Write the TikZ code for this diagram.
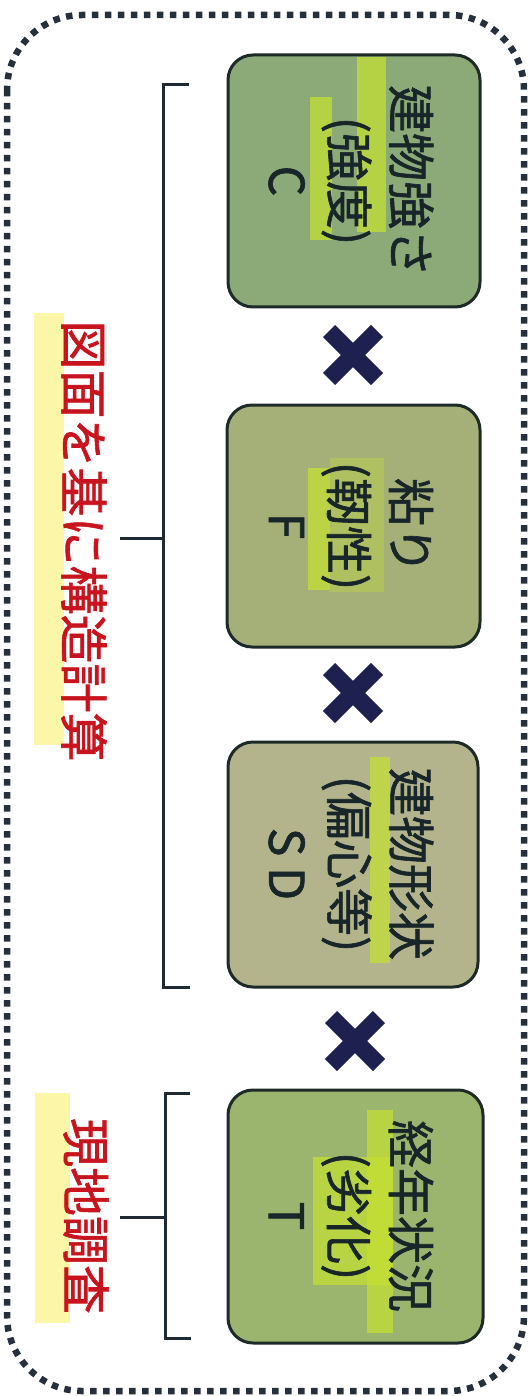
\documentclass[tikz,border=0pt]{standalone}
\usepackage{fontspec}
\newfontfamily\jp[FakeBold=1.3]{Noto Sans CJK JP}
\definecolor{dotc}{HTML}{26303C}
\definecolor{linec}{HTML}{1F2A33}
\definecolor{boxline}{HTML}{1E2A28}
\definecolor{crossc}{HTML}{1E2050}
\definecolor{redt}{HTML}{C8141E}
\definecolor{hilite}{HTML}{C4E034}
\definecolor{yel}{HTML}{FAF060}
\definecolor{fC}{HTML}{8CAA78}
\definecolor{fF}{HTML}{A5AF78}
\definecolor{fSD}{HTML}{B4B48C}
\definecolor{fT}{HTML}{9BB46E}
\definecolor{txt}{HTML}{18262A}
\tikzset{
  x=1pt, y=-1pt,
  card/.style={draw=boxline, line width=3pt, rounded corners=25pt, inner sep=0pt},
  cardtext/.style={font=\jp\fontsize{48}{62}\selectfont, align=center, rotate=-90, text=txt, inner sep=0pt},
  redlabel/.style={font=\jp\fontsize{49}{60}\selectfont, text=redt, rotate=-90, inner sep=0pt},
  hl/.style={fill=hilite, fill opacity=0.75},
  bracket/.style={draw=linec, line width=3pt},
  crossline/.style={draw=crossc, line width=17pt},
}
\begin{document}
\begin{tikzpicture}
\useasboundingbox (0,0) rectangle (531,1396);
% outer dotted frame
\draw[dotc, line width=6.5pt, dash pattern=on 6.5pt off 6.5pt, rounded corners=75pt] (7,15) rectangle (524,1391);

% cards
\node[card, fill=fC, minimum width=252pt, minimum height=252pt] (bC) at (354,181) {};
\node[card, fill=fF, minimum width=253pt, minimum height=242pt] (bF) at (353.5,526) {};
\node[card, fill=fSD, minimum width=250pt, minimum height=245pt] (bSD) at (353,864.5) {};
\node[card, fill=fT, minimum width=255pt, minimum height=253pt] (bT) at (355.5,1216.5) {};

% highlighter strokes in cards
\fill[hl] (357,57) rectangle (386,232);
\fill[hl] (310,97) rectangle (332,240);
\fill[hl] (308,468) rectangle (330,590);
\fill[hl, fill opacity=0.35] (330,458) rectangle (384,592);
\fill[hl] (370,757) rectangle (390,963);
\fill[hl] (313,1157) rectangle (393,1285);
\fill[hl] (367,1110) rectangle (393,1333);

% card texts
\node[cardtext] (tC) at (351,181) {建物強さ\\(強度)\\C};
\node[cardtext] (tF) at (351,526) {粘り\\(靭性)\\F};
\node[cardtext] (tSD) at (351,864) {建物形状\\(偏心等)\\S D};
\node[cardtext] (tT) at (351,1216) {経年状況\\(劣化)\\T};

% crosses
\coordinate (x1) at (353,355);
\coordinate (x2) at (353,693);
\coordinate (x3) at (355,1041);
\foreach \c in {x1,x2,x3}{
  \draw[crossline] ([shift={(-24,-24)}]\c) -- ([shift={(24,24)}]\c);
  \draw[crossline] ([shift={(-24,24)}]\c) -- ([shift={(24,-24)}]\c);
}

% yellow highlights behind red labels
\fill[yel, opacity=0.55] (34,313) rectangle (64,745);
\fill[yel, opacity=0.55] (35,1093) rectangle (70,1323);

% red labels
\node[redlabel] (lA) at (84,541) {図面を基に構造計算};
\node[redlabel] (lB) at (86,1216) {現地調査};

% brackets
\coordinate (b1a) at (189,85);
\coordinate (b1b) at (190,987);
\coordinate (b1m) at (163,538);
\coordinate (t1) at (120,538);
\draw[bracket] (b1a) -- (163,85) -- (163,987) -- (b1b);
\draw[bracket] (b1m) -- (t1);
\coordinate (b2a) at (190,1093);
\coordinate (b2b) at (191,1338);
\coordinate (b2m) at (165,1217);
\coordinate (t2) at (120,1217);
\draw[bracket] (b2a) -- (165,1093) -- (165,1338) -- (b2b);
\draw[bracket] (b2m) -- (t2);
\end{tikzpicture}
\end{document}
